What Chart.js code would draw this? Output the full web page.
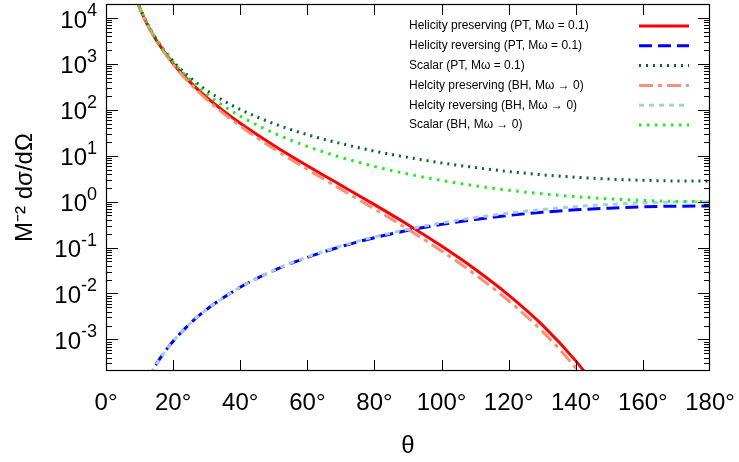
<!DOCTYPE html>
<html><head><meta charset="utf-8">
<script src="https://cdn.jsdelivr.net/npm/chart.js@4/dist/chart.umd.min.js"></script>
<style>html,body{margin:0;padding:0;background:#fff}</style>
</head><body>
<canvas id="c" width="739" height="462"></canvas>
<script>
// ---- data ----
const thetaPreserving = [9, 10, 12, 15, 20, 25, 30, 35, 40, 50, 60, 70, 80, 90, 100, 110, 120, 130, 140, 145];
const helPresPT = [25750, 16810, 8015, 3280, 1024, 406, 186, 94.7, 51.1, 16.8, 6.07, 2.28, 0.862, 0.315, 0.108, 0.0338, 0.00923, 0.00207, 0.000341, 0.000117];
const helPresBH = [25750, 16810, 8015, 3216, 975, 376, 168.9, 83.8, 44.4, 14.26, 5.06, 1.872, 0.695, 0.25, 0.0846, 0.0260, 0.00694, 0.00151, 0.00024, 0.0000808];

const thetaReversing = [12, 14, 16, 20, 25, 30, 40, 50, 60, 70, 80, 90, 100, 110, 120, 130, 140, 150, 160, 170, 180];
const helRevPT = [0.000119, 0.00022, 0.000375, 0.00091, 0.00219, 0.00449, 0.0137, 0.0316, 0.0613, 0.105, 0.164, 0.2375, 0.320, 0.410, 0.501, 0.587, 0.663, 0.7225, 0.771, 0.798, 0.80];
const helRevBH = [0.000119, 0.00022, 0.000375, 0.00091, 0.00219, 0.00449, 0.01368, 0.0319, 0.0625, 0.1082, 0.1707, 0.25, 0.3444, 0.4503, 0.5625, 0.6747, 0.7797, 0.8705, 0.9406, 0.9848, 1.0];

const thetaScalar = [9, 10, 12, 15, 20, 25, 30, 35, 40, 50, 60, 70, 80, 90, 100, 110, 120, 130, 140, 150, 160, 170, 180];
const scalarPT = [26390, 17330, 8375, 3445, 1155, 510, 267, 159, 102, 50.2, 28.8, 18.5, 12.6, 9.2, 6.97, 5.55, 4.53, 3.85, 3.40, 3.10, 2.92, 2.82, 2.8];
const scalarBH = [26390, 17330, 8375, 3445, 1100, 455.7, 222.9, 122.3, 73.1, 31.35, 16, 9.24, 5.857, 4, 2.904, 2.221, 1.778, 1.482, 1.2826, 1.1488, 1.0632, 1.0154, 1.0];

const seriesLabels = [
  'Helicity preserving (PT, Mω = 0.1)',
  'Helicity reversing (PT, Mω = 0.1)',
  'Scalar (PT, Mω = 0.1)',
  'Helcity preserving (BH, Mω → 0)',
  'Helcity reversing (BH, Mω → 0)',
  'Scalar (BH, Mω → 0)'
];
const xTickStep = 20;
const yDecadeExponents = [-3, -2, -1, 0, 1, 2, 3, 4];
const xTitle = 'θ';
const yTitle = 'M⁻² dσ/dΩ';

// ---- styles ----
const styles = [
  {color: '#ff0000', dash: []},
  {color: '#0000ff', dash: [13, 6]},
  {color: '#0b6232', dash: [2, 5]},
  {color: '#f8907a', dash: [14, 5, 4, 5]},
  {color: '#a6cde3', dash: [5, 5]},
  {color: '#19ee19', dash: [2.5, 5.5]}
];

const pts = (xs, ys) => xs.map((x, i) => ({x: x, y: ys[i]}));
const seriesData = [
  pts(thetaPreserving, helPresPT),
  pts(thetaReversing, helRevPT),
  pts(thetaScalar, scalarPT),
  pts(thetaPreserving, helPresBH),
  pts(thetaReversing, helRevBH),
  pts(thetaScalar, scalarBH)
];

const AREA = {left: 106, right: 710, top: 4, bottom: 371};
const FONT = "'Liberation Sans', Arial, sans-serif";

const framePlugin = {
  id: 'frame',
  afterDatasetsDraw(chart) {
    const ctx = chart.ctx, a = chart.chartArea;
    const xs = chart.scales.x, ys = chart.scales.y;
    ctx.save();
    ctx.strokeStyle = '#000';
    ctx.lineWidth = 1;
    ctx.setLineDash([]);
    ctx.beginPath();
    xs.ticks.forEach(t => {
      if (t.value <= xs.min || t.value >= xs.max) return;
      const px = Math.round(xs.getPixelForValue(t.value)) + 0.5;
      ctx.moveTo(px, a.bottom); ctx.lineTo(px, a.bottom - 11);
      ctx.moveTo(px, a.top); ctx.lineTo(px, a.top + 11);
    });
    ys.ticks.forEach(t => {
      const py = Math.round(ys.getPixelForValue(t.value)) + 0.5;
      if (py < a.top || py > a.bottom) return;
      const len = t.major ? 12 : 6;
      ctx.moveTo(a.left, py); ctx.lineTo(a.left + len, py);
      ctx.moveTo(a.right, py); ctx.lineTo(a.right - len, py);
    });
    ctx.stroke();
    ctx.lineWidth = 1.2;
    ctx.strokeRect(a.left + 0.5, a.top + 0.5, a.right - a.left - 1, a.bottom - a.top - 1);

    // y decade labels with superscript exponents
    ctx.fillStyle = '#000';
    ctx.textBaseline = 'alphabetic';
    ctx.textAlign = 'left';
    yDecadeExponents.forEach(e => {
      const py = ys.getPixelForValue(Math.pow(10, e));
      const base = '10', ex = String(e);
      ctx.font = '24px ' + FONT;
      const wb = ctx.measureText(base).width;
      ctx.font = '18px ' + FONT;
      const we = ctx.measureText(ex).width;
      const x0 = 97 - we - wb;
      ctx.font = '24px ' + FONT;
      ctx.fillText(base, x0, py + 9.5);
      ctx.font = '18px ' + FONT;
      ctx.fillText(ex, x0 + wb, py - 2);
    });

    // legend
    ctx.font = '12px ' + FONT;
    ctx.textBaseline = 'middle';
    chart.data.datasets.forEach((ds, i) => {
      const y = 26 + i * 19.8;
      ctx.fillStyle = '#000';
      ctx.fillText(ds.label, 409, y);
      ctx.save();
      ctx.strokeStyle = ds.borderColor;
      ctx.lineWidth = ds.borderWidth;
      ctx.setLineDash(ds.borderDash || []);
      ctx.beginPath();
      ctx.moveTo(639, y); ctx.lineTo(689, y);
      ctx.stroke();
      ctx.restore();
    });
    ctx.restore();
  }
};

const datasets = seriesData.map((d, i) => ({
  label: seriesLabels[i],
  data: d,
  borderColor: styles[i].color,
  backgroundColor: styles[i].color,
  borderDash: styles[i].dash,
  borderWidth: 3,
  pointRadius: 0,
  fill: false,
  cubicInterpolationMode: 'monotone',
  clip: 0,
  order: 6 - i
}));

new Chart(document.getElementById('c'), {
  type: 'line',
  data: {datasets: datasets},
  options: {
    responsive: false,
    animation: false,
    devicePixelRatio: 1,
    layout: {padding: {left: 0, right: 739 - AREA.right, top: AREA.top, bottom: 0}},
    plugins: {legend: {display: false}, tooltip: {enabled: false}},
    scales: {
      x: {
        type: 'linear', min: 0, max: 180,
        border: {display: false},
        grid: {display: false, drawTicks: false},
        ticks: {stepSize: xTickStep, padding: 18, color: '#000', font: {family: FONT, size: 24}, maxRotation: 0,
                callback: v => v + '°'},
        title: {display: true, text: xTitle, color: '#000', font: {family: FONT, size: 24}, padding: {top: 0, bottom: 1}},
        afterFit: s => { s.height = 462 - AREA.bottom; s.paddingLeft = 0; s.paddingRight = 0; }
      },
      y: {
        type: 'logarithmic', min: 2.05e-4, max: 2.02e4,
        border: {display: false},
        grid: {display: false, drawTicks: false},
        afterBuildTicks: s => {
          const t = [];
          for (let e = -4; e <= 4; e++) {
            for (let m = 1; m <= 9; m++) {
              const v = m * Math.pow(10, e);
              if (v >= s.min && v <= s.max) t.push({value: v, major: m === 1});
            }
          }
          s.ticks = t;
        },
        ticks: {display: false, autoSkip: false,
                callback: v => {
                  const e = Math.round(Math.log10(v));
                  return (Math.abs(v / Math.pow(10, e) - 1) < 1e-6 && yDecadeExponents.includes(e)) ? '10^' + e : '';
                }},
        title: {display: true, text: yTitle, color: '#000', font: {family: FONT, size: 24}, padding: {top: 11, bottom: 0}},
        afterFit: s => { s.width = AREA.left; s.paddingTop = 0; s.paddingBottom = 0; }
      }
    }
  },
  plugins: [framePlugin]
});
</script>
</body></html>
